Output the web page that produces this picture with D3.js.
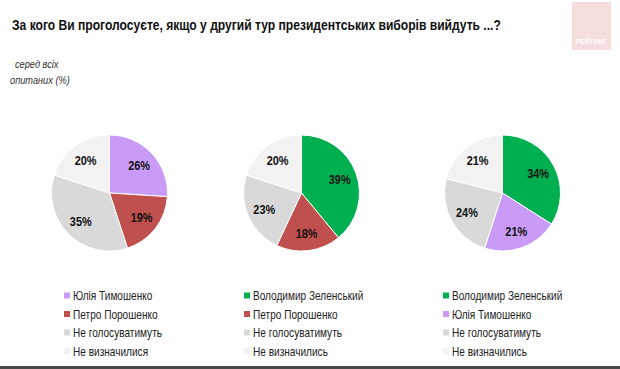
<!DOCTYPE html>
<html><head><meta charset="utf-8">
<script src="https://cdn.jsdelivr.net/npm/d3@7"></script>
<style>body{margin:0;background:#fff}svg{display:block;font-family:"Liberation Sans",Arial,sans-serif}</style>
</head><body><svg id="c" width="620" height="369"></svg>
<script>
const title = "За кого Ви проголосуєте, якщо у другий тур президентських виборів вийдуть ...?";
const subtitle = ["серед всіх", "опитаних (%)"];
const pie1Labels = ["Юлія Тимошенко", "Петро Порошенко", "Не голосуватимуть", "Не визначилися"];
const pie1Values = [26, 19, 35, 20];
const pie2Labels = ["Володимир Зеленський", "Петро Порошенко", "Не голосуватимуть", "Не визначились"];
const pie2Values = [39, 18, 23, 20];
const pie3Labels = ["Володимир Зеленський", "Юлія Тимошенко", "Не голосуватимуть", "Не визначились"];
const pie3Values = [34, 21, 24, 21];

const colorMap = {
  "Юлія Тимошенко": "#c89cf6",
  "Петро Порошенко": "#c0504d",
  "Володимир Зеленський": "#00b050",
  "Не голосуватимуть": "#d9d9d9",
  "Не визначилися": "#f2f2f2",
  "Не визначились": "#f2f2f2"
};

const SX = 0.84;
const svg = d3.select("#c");
function txt(parent, x, y, s) {
  return parent.append("text").attr("transform", `translate(${x},${y}) scale(${SX},1)`).text(s);
}
// logo
svg.append("rect").attr("x",572).attr("y",2).attr("width",39).attr("height",48).attr("fill","#f7dede");
txt(svg, 591.5, 44, "РЕЙТИНГ").attr("text-anchor","middle").attr("font-size",8).attr("font-weight","bold").attr("fill","#fff");

txt(svg, 12, 30, title).attr("font-size",14.4).attr("font-weight","bold").attr("fill","#111");
txt(svg, 15, 68, subtitle[0]).attr("font-size",11).attr("font-style","italic").attr("fill","#333");
txt(svg, 10, 84, subtitle[1]).attr("font-size",11).attr("font-style","italic").attr("fill","#333");

const pies = [
  {labels: pie1Labels, values: pie1Values, cx: 109.5, lx: 64},
  {labels: pie2Labels, values: pie2Values, cx: 301.5, lx: 244},
  {labels: pie3Labels, values: pie3Values, cx: 502.5, lx: 443}
];
const cy = 193, r = 58;
const pieGen = d3.pie().sort(null).value(d => d.v);
const arc = d3.arc().innerRadius(0).outerRadius(r);
const labelArc = d3.arc().innerRadius(r*0.7).outerRadius(r*0.7);

pies.forEach(p => {
  const data = p.labels.map((l,i) => ({l, v: p.values[i]}));
  const g = svg.append("g").attr("transform",`translate(${p.cx},${cy})`);
  const arcs = pieGen(data);
  g.selectAll("path").data(arcs).join("path")
    .attr("d", arc).attr("fill", d => colorMap[d.data.l]).attr("stroke","#fff").attr("stroke-width",1);
  arcs.forEach(d => {
    const [x, y] = labelArc.centroid(d);
    txt(g, x, y + 4.5, d.data.v + "%")
      .attr("text-anchor","middle")
      .attr("font-size",13).attr("font-weight","bold").attr("fill","#111");
  });
  const lg = svg.append("g");
  const row = d3.scaleLinear().domain([0,1]).range([296, 314.5]);
  data.forEach((d,i) => {
    lg.append("rect").attr("x",p.lx).attr("y",row(i)-3.5).attr("width",6).attr("height",6).attr("fill",colorMap[d.l]);
    txt(lg, p.lx+9, row(i)+4, d.l).attr("font-size",12).attr("fill","#222");
  });
});

svg.append("rect").attr("x",0).attr("y",366).attr("width",620).attr("height",3).attr("fill","#4a4a4a");
</script></body></html>
